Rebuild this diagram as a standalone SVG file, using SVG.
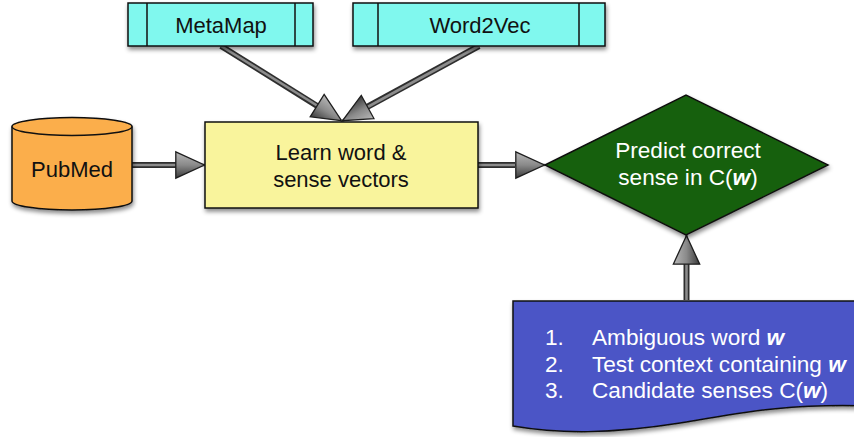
<svg xmlns="http://www.w3.org/2000/svg" width="854" height="437" viewBox="0 0 854 437">
<defs>
<filter id="sh" x="-10%" y="-10%" width="130%" height="140%">
<feDropShadow dx="1" dy="3" stdDeviation="2" flood-color="#000" flood-opacity="0.45"/>
</filter>
<linearGradient id="hg" x1="0" y1="0" x2="0" y2="1">
<stop offset="0" stop-color="#b8b8b8"/>
<stop offset="0.5" stop-color="#8a8a8a"/>
<stop offset="1" stop-color="#3a3a3a"/>
</linearGradient>
<marker id="ah" viewBox="0 0 30 28" refX="30" refY="14" markerWidth="30" markerHeight="28" markerUnits="userSpaceOnUse" orient="auto" overflow="visible">
<path d="M0.8,0.8 L29.5,14 L0.8,27.2 Z" fill="url(#hg)" stroke="#1e1e1e" stroke-width="1.3" stroke-linejoin="miter"/>
</marker>
</defs>
<style>
text{font-family:"Liberation Sans",Arial,sans-serif;font-size:22px;text-anchor:middle;fill:#111}
.w{fill:#fff}
.d{font-size:22.6px}
.l{text-anchor:start}
.b{font-weight:bold;font-style:italic}
.ol{fill:none;stroke:#2e2e2e;stroke-width:6;stroke-linecap:butt}
.cr{fill:none;stroke:#8c8c8c;stroke-width:2.6;stroke-linecap:butt}
.n{stroke:#111;stroke-width:1.5}
</style>
<g id="connectors">
<path class="ol" d="M221,46 L318,106.5"/>
<path class="cr" d="M221,46 L342,121" marker-end="url(#ah)"/>
<path class="ol" d="M479,46 L367,107"/>
<path class="cr" d="M479,46 L342,121" marker-end="url(#ah)"/>
<path class="ol" d="M132,165 L176,165"/>
<path class="cr" d="M132,165 L205,165" marker-end="url(#ah)"/>
<path class="ol" d="M478,165 L515,165"/>
<path class="cr" d="M478,165 L545,165" marker-end="url(#ah)"/>
<path class="ol" d="M686.5,300 L686.5,264"/>
<path class="cr" d="M686.5,300 L686.5,235" marker-end="url(#ah)"/>
</g>
<g id="metamap">
<rect class="n" x="128" y="3" width="185" height="43" fill="#80f8ee" filter="url(#sh)"/>
<path class="n" d="M147,3 V46 M295,3 V46" fill="none"/>
<text x="221" y="32.5">MetaMap</text>
</g>
<g id="word2vec">
<rect class="n" x="353" y="3" width="252" height="43" fill="#80f8ee" filter="url(#sh)"/>
<path class="n" d="M378,3 V46 M579,3 V46" fill="none"/>
<text x="480" y="32.5">Word2Vec</text>
</g>
<g id="pubmed">
<path class="n" d="M12,126.5 A60,9 0 0,1 132,126.5 V201 A60,9 0 0,1 12,201 Z" fill="#fbae4b" filter="url(#sh)"/>
<path class="n" d="M12,126.5 A60,9 0 0,0 132,126.5" fill="none"/>
<text x="72" y="177">PubMed</text>
</g>
<g id="learn">
<rect class="n" x="205" y="122" width="273" height="86" fill="#f9f49c" filter="url(#sh)"/>
<text x="341" y="160">Learn word &amp;</text>
<text x="341" y="187">sense vectors</text>
</g>
<g id="predict">
<path class="n" d="M545,165 L686,95 L828,165 L686,235 Z" fill="#176110" filter="url(#sh)"/>
<text class="w d" x="688" y="158">Predict correct</text>
<text class="w d" x="688" y="185">sense in C(<tspan class="b">w</tspan>)</text>
</g>
<g id="inputs">
<path class="n" d="M513,301 L870,301 L870,406 C790,403 740,413 680,423 C610,434 560,434 513,426 Z" fill="#4b55c6" filter="url(#sh)"/>
<text class="w l d" x="545" y="345">1.</text>
<text class="w l d" x="592" y="345">Ambiguous word <tspan class="b">w</tspan></text>
<text class="w l d" x="545" y="372">2.</text>
<text class="w l d" x="592" y="372">Test context containing <tspan class="b">w</tspan></text>
<text class="w l d" x="545" y="398">3.</text>
<text class="w l d" x="592" y="398">Candidate senses C(<tspan class="b">w</tspan>)</text>
</g>
</svg>
